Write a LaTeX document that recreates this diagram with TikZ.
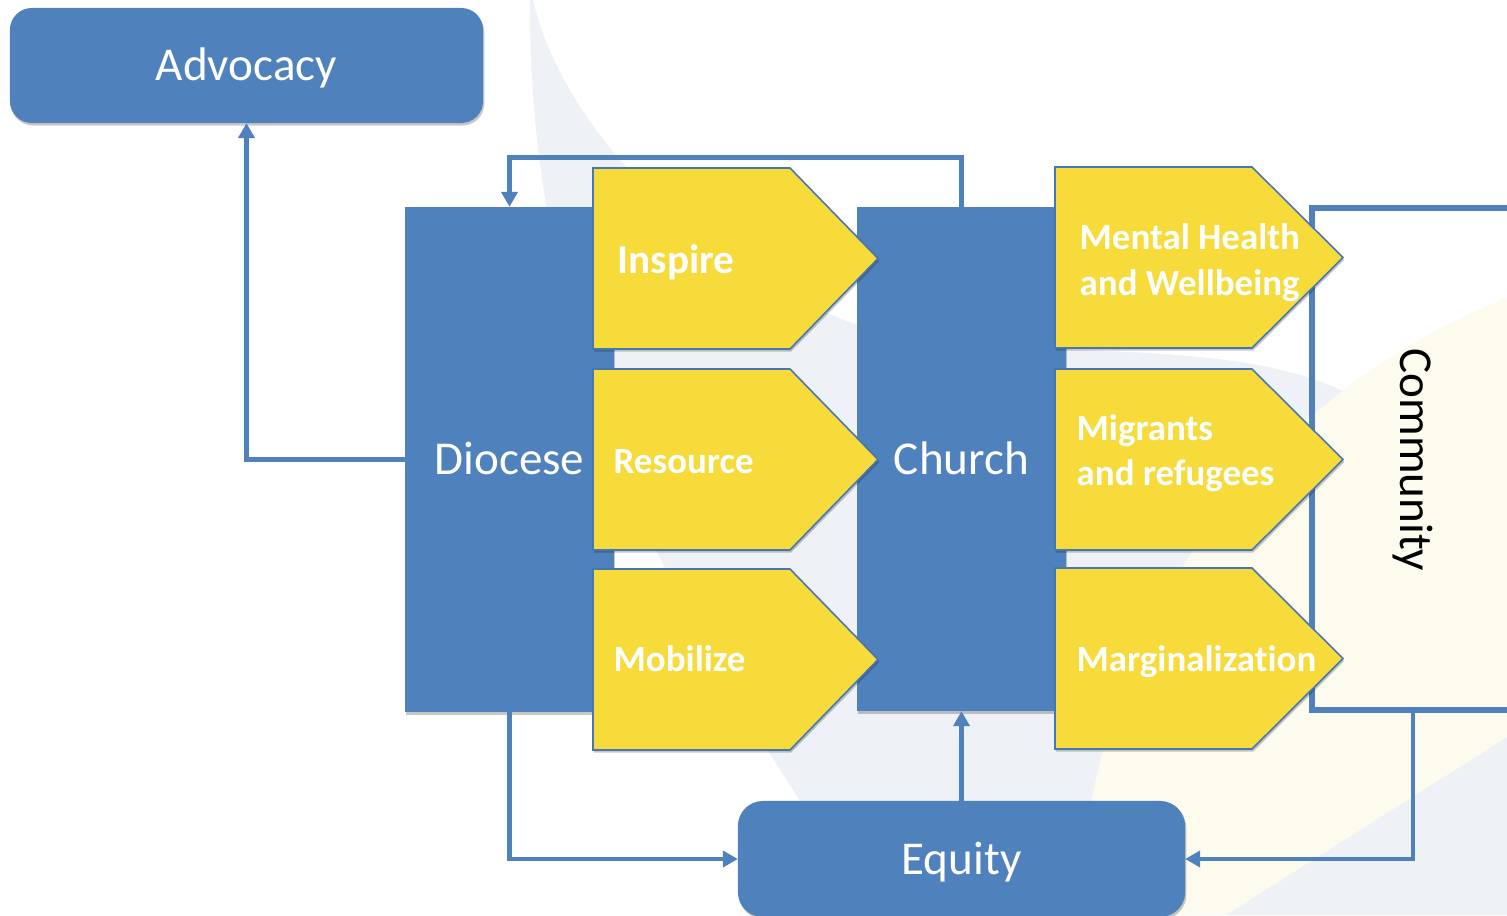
\documentclass[tikz,border=0pt]{standalone}
\usepackage{fontspec}
\setmainfont{Carlito}[Ligatures=CommonOff]
\usetikzlibrary{arrows.meta,shadows}
\definecolor{bblue}{HTML}{4F81BD}
\definecolor{bedge}{HTML}{4677B5}
\definecolor{byellow}{HTML}{F6DB3B}
\definecolor{bggrey}{HTML}{EEF1F5}
\definecolor{bgcream}{HTML}{FDFAEE}
\begin{document}
\begin{tikzpicture}[x=0.01cm,y=-0.01cm,
  softshadow/.style={drop shadow={shadow xshift=0.012cm,shadow yshift=-0.025cm,opacity=0.22,fill=black}},
  bigfont/.style={font=\fontsize{13.4}{16}\selectfont},
  box/.style={fill=bblue,draw=none,text=white,inner sep=0pt,outer sep=0pt,
              text height=0.3cm,text depth=0pt,bigfont,softshadow},
  rbox/.style={box,rounded corners=0.22cm},
  chev/.style={fill=byellow,draw=bedge,line width=0.45pt,softshadow},
  lab/.style={text=white,inner sep=0pt,font=\bfseries\fontsize{10.5}{12.6}\selectfont},
  conn/.style={draw=bblue,line width=0.048cm,-{Triangle[length=0.15cm,width=0.16cm]}}
]
\useasboundingbox (0,0) rectangle (1507,915);
\clip (0,0) rectangle (1507,915);
% background
\fill[white] (0,0) rectangle (1507,915);
\fill[bggrey] (530,0) .. controls (528,360) and (680,640) .. (880,915) -- (1507,915) -- (1507,0) -- cycle;
\fill[white] (533,0) .. controls (560,120) and (700,285) .. (900,338)
   .. controls (1050,360) and (1250,335) .. (1360,400) -- (1507,480) -- (1507,0) -- cycle;
\fill[bgcream] (1080,915) .. controls (1085,640) and (1250,400) .. (1507,298) -- (1507,737) -- (1226,915) -- cycle;

% main boxes
\node[rbox,minimum width=4.73cm,minimum height=1.15cm] (adv) at (246.5,65.5) {Advocacy};
\node[box,minimum width=2.09cm,minimum height=5.05cm] (dio) at (509.5,459.5) {Diocese};
\node[box,minimum width=2.09cm,minimum height=5.04cm] (ch) at (961.5,459) {Church};
\node[draw=bblue,line width=0.065cm,minimum width=2.02cm,minimum height=5.02cm,inner sep=0pt] (com) at (1413,459) {};

% chevrons
\foreach \xl/\xb/\xt/\yt in {593/790/878/168, 593/790/878/369, 593/790/878/569,
                             1055/1252/1343/167, 1055/1252/1343/369, 1055/1252/1343/568}
  \filldraw[chev] (\xl,\yt) -- (\xb,\yt) -- (\xt,\yt+90.5) -- (\xb,\yt+181) -- (\xl,\yt+181) -- cycle;

\node[rbox,minimum width=4.47cm,minimum height=1.16cm,rounded corners=0.25cm] (eq) at (961.5,859) {Equity};

% connectors
\draw[conn] (dio.west) -| (adv.south);
\draw[conn] (ch.north) -- ++(0,-49) -| (dio.north);
\draw[conn] (dio.south) |- (eq.west);
\draw[conn] (eq.north) -- (ch.south);
\draw[conn] (com.south) |- (eq.east);

% labels
\node[lab,font=\bfseries\fontsize{11.7}{14}\selectfont,anchor=base west] (tins) at (617,273) {Inspire};
\node[lab,anchor=base west] (tres) at (613,473) {Resource};
\node[lab,anchor=base west] (tmob) at (613,671) {Mobilize};
\node[lab,anchor=base west] (tmh1) at (1079,249) {Mental Health};
\node[lab,anchor=base west] (tmh2) at (1079,295) {and Wellbeing};
\node[lab,anchor=base west] (tmr1) at (1076,440) {Migrants};
\node[lab,anchor=base west] (tmr2) at (1076,485) {and refugees};
\node[lab,anchor=base west] (tmar) at (1076,671) {Marginalization};
\node[bigfont,text=black,inner sep=0pt,anchor=base,rotate=-90] (tcom) at (1400,460) {Community};
\end{tikzpicture}
\end{document}
